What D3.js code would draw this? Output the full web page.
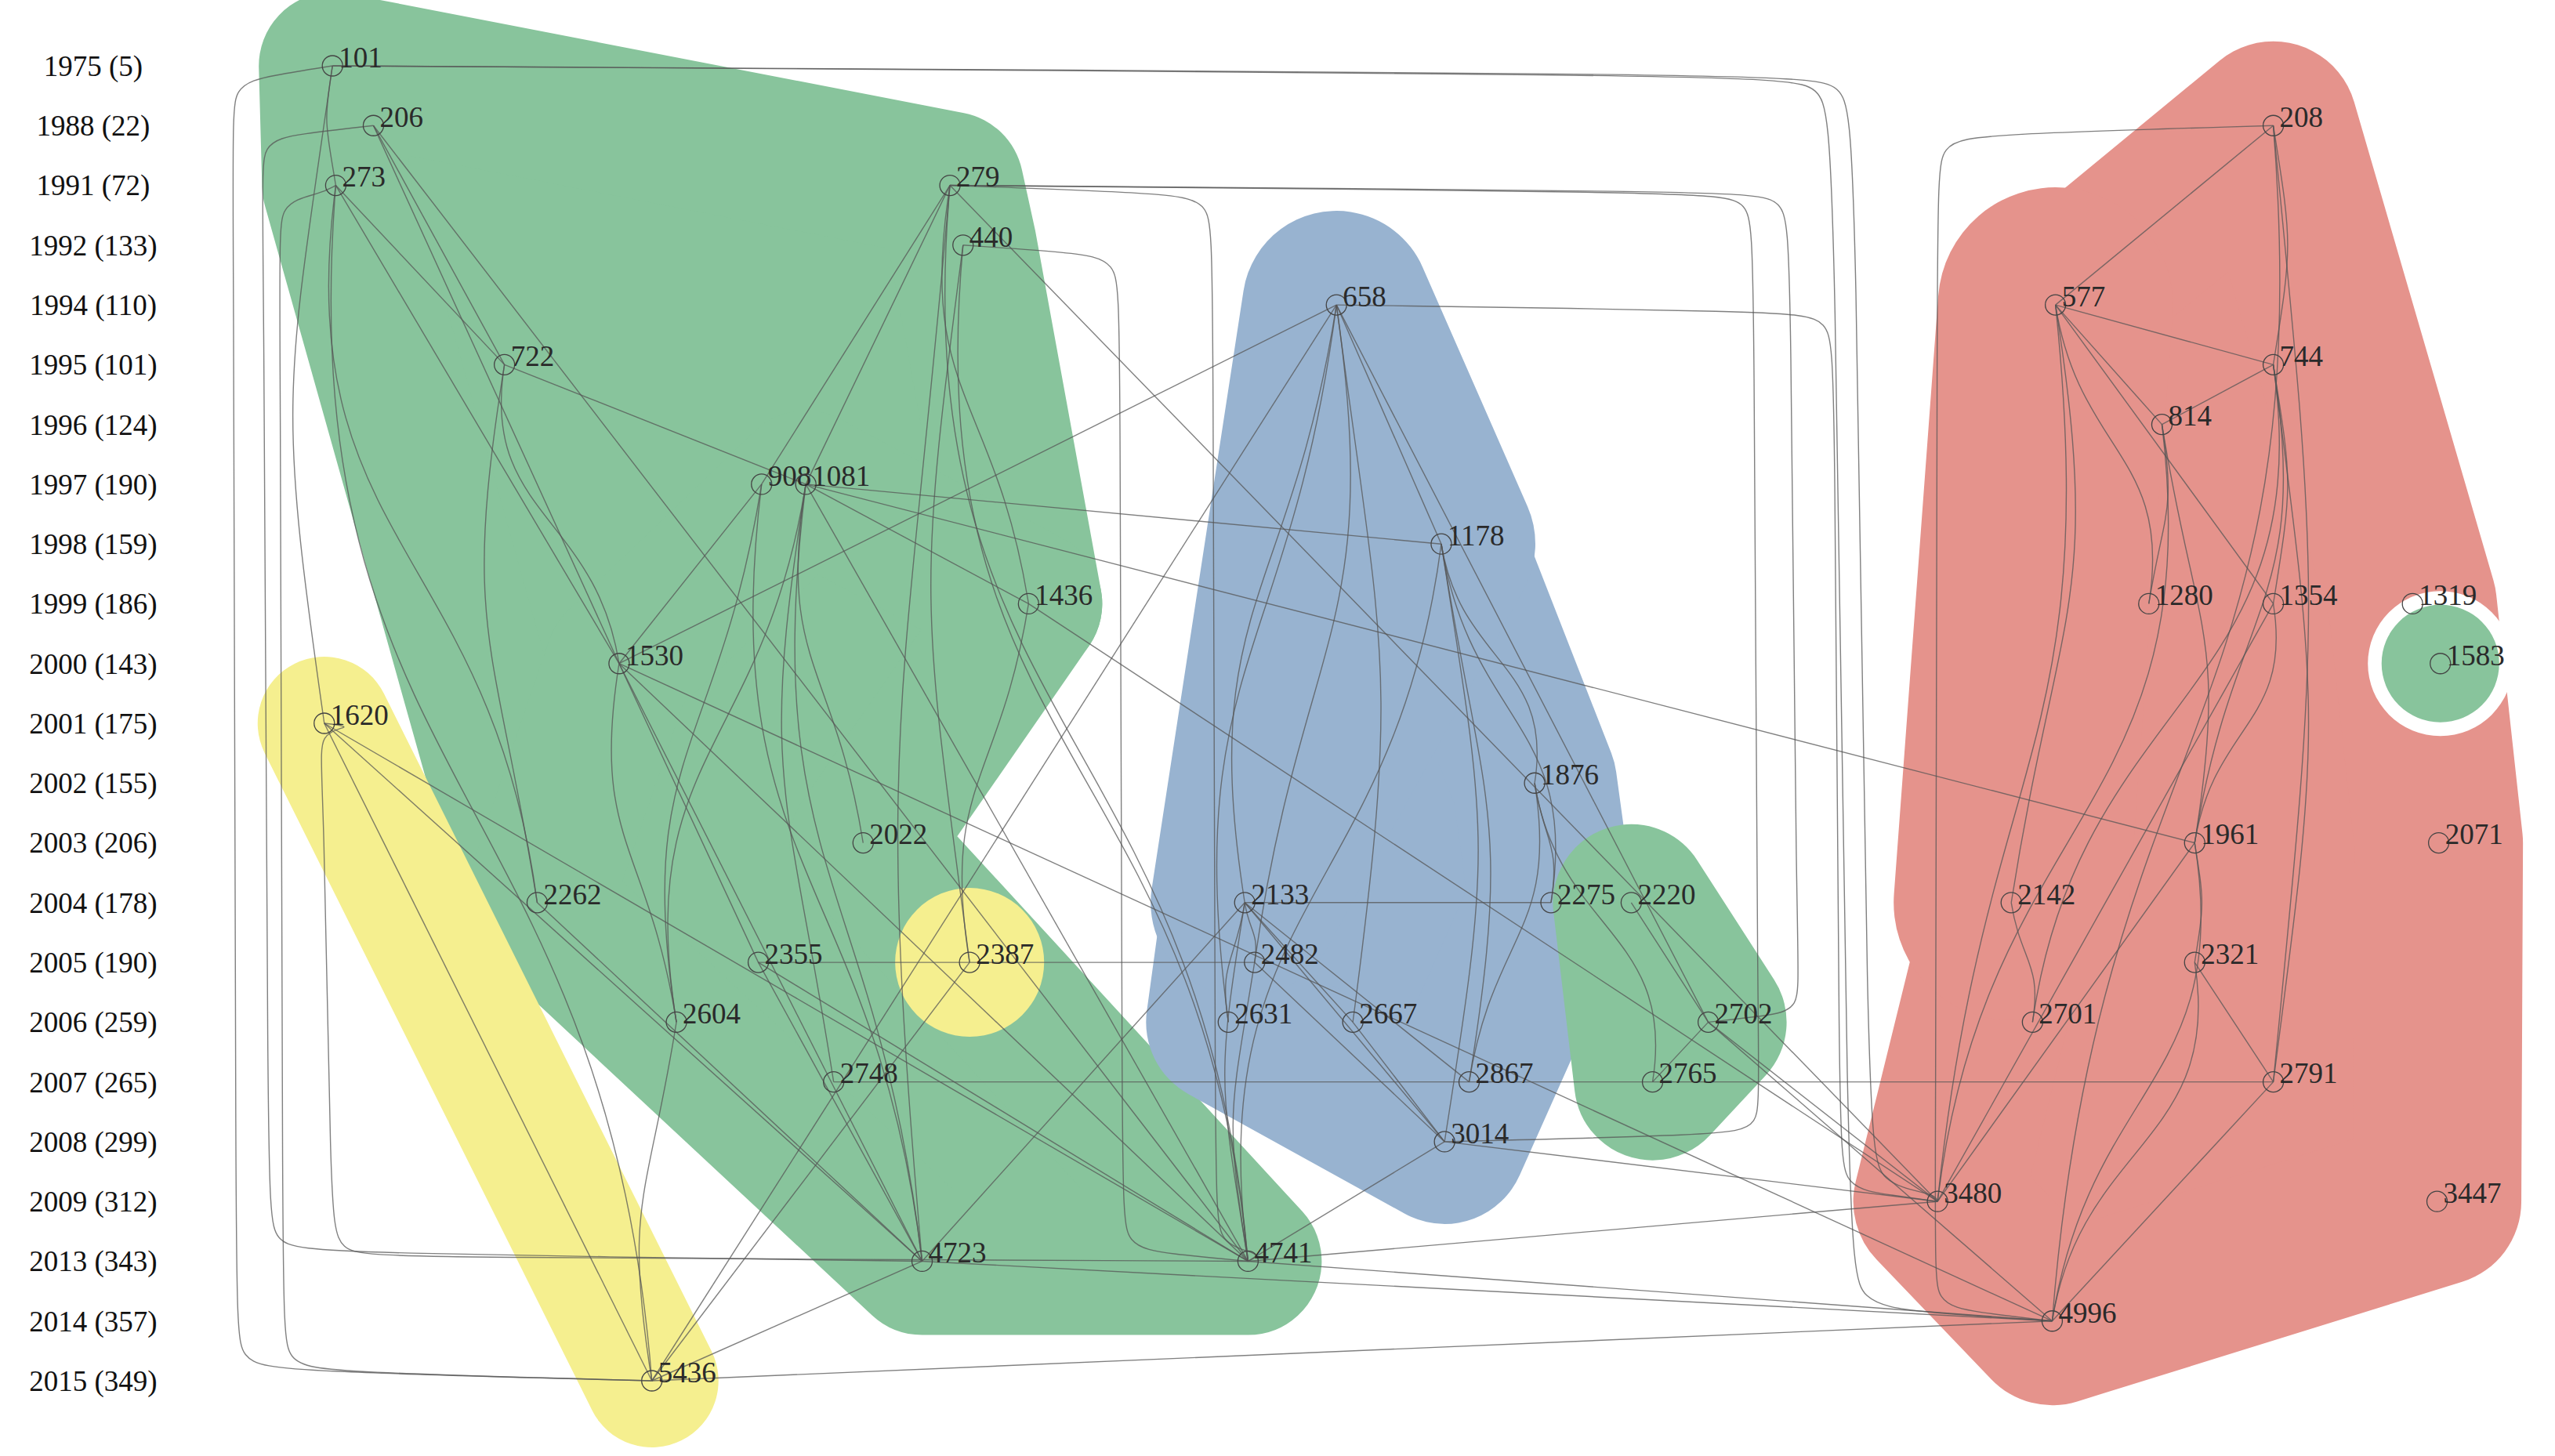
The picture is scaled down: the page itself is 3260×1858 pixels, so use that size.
<!DOCTYPE html>
<html><head><meta charset="utf-8">
<script src="https://cdn.jsdelivr.net/npm/d3@7"></script>
<style>body{margin:0;background:#fff}svg{display:block}</style>
</head><body><svg id="c" width="3260" height="1858"></svg>
<script>
const years = ["1975 (5)","1988 (22)","1991 (72)","1992 (133)","1994 (110)","1995 (101)","1996 (124)","1997 (190)","1998 (159)","1999 (186)","2000 (143)","2001 (175)","2002 (155)","2003 (206)","2004 (178)","2005 (190)","2006 (259)","2007 (265)","2008 (299)","2009 (312)","2013 (343)","2014 (357)","2015 (349)"];
const rowOf = y => years.find(s => s.startsWith(y));
const nodes = [
 ["101",203,"1975"],["206",228,"1988"],["273",205,"1991"],["279",580,"1991"],["440",588,"1992"],
 ["722",308,"1995"],["908",465,"1997"],["1081",492,"1997"],["1530",378,"2000"],["1436",628,"1999"],
 ["1620",198,"2001"],["2022",527,"2003"],["2262",328,"2004"],["2355",463,"2005"],["2604",413,"2006"],
 ["2748",509,"2007"],["4723",563,"2013"],["4741",762,"2013"],["5436",398,"2015"],["2387",592,"2005"],
 ["658",816,"1994"],["1178",880,"1998"],["1876",937,"2002"],["2133",760,"2004"],["2275",947,"2004"],
 ["2482",766,"2005"],["2631",750,"2006"],["2667",826,"2006"],["2867",897,"2007"],["3014",882,"2008"],
 ["2220",996,"2004"],["2702",1043,"2006"],["2765",1009,"2007"],
 ["208",1388,"1988"],["577",1255,"1994"],["744",1388,"1995"],["814",1320,"1996"],["1280",1312,"1999"],
 ["1354",1388,"1999"],["1319",1473,"1999"],["1583",1490,"2000"],["2071",1489,"2003"],["1961",1340,"2003"],
 ["2142",1228,"2004"],["2321",1340,"2005"],["2701",1241,"2006"],["2791",1388,"2007"],["3480",1183,"2009"],
 ["3447",1488,"2009"],["4996",1253,"2014"]
];
const edges = [
 ["273","101"],["1620","101"],["722","206"],["722","273"],["1530","273"],["1530","722"],["1530","206"],
 ["908","279"],["1081","279"],["1081","722"],["1436","279"],["1436","1081"],["1530","908"],["2262","722"],
 ["2262","273"],["2604","908"],["2604","1081"],["2355","1530"],["2748","1081"],["2022","1081"],["4723","1530"],
 ["4723","908"],["4723","2355"],["4723","1081"],["4741","1081"],["4741","279"],["4741","440"],["4741","2355"],
 ["4741","1530"],["4741","206"],["5436","1620"],["5436","2604"],["5436","4723"],["4723","1620"],["4741","1620"],
 ["2387","1436"],["2387","440"],["4723","279"],["5436","2387"],["2604","1530"],["4723","2262"],["5436","273"],
 ["1178","658"],["1178","1081"],["2133","658"],["2482","658"],["2631","658"],["2667","658"],["1876","1178"],
 ["2275","1178"],["2867","1178"],["3014","1178"],["3014","2133"],["3014","2482"],["3014","2667"],["2867","1876"],
 ["2275","1876"],["2667","2133"],["2482","2133"],["2631","2133"],["4741","2133"],["4741","2482"],["4741","3014"],
 ["4741","1178"],["2275","2133"],["2482","2355"],["1530","658"],["2702","658"],["2702","2220"],["2765","2702"],
 ["2765","1876"],["3480","2702"],["3480","4741"],["3480","1436"],["4723","2133"],["2867","2133"],
 ["577","208"],["744","208"],["744","577"],["814","577"],["814","744"],["1280","577"],["1354","577"],
 ["1354","744"],["1280","814"],["1961","814"],["1961","1354"],["1961","744"],["1961","1081"],["2142","577"],
 ["2321","1961"],["2701","2142"],["2701","744"],["2791","744"],["2791","208"],["2791","2321"],["3480","577"],
 ["3480","814"],["3480","1354"],["3480","1961"],["4996","2321"],["4996","2791"],["4996","1961"],["4996","208"],
 ["4996","4723"],["4996","2702"],["4996","4741"],["5436","4996"],["2791","2748"],["3480","3014"],
 ["3480","279"],["5436","658"],["4996","1530"]
];
const routed = [
 ["101","3480",1160],["101","4996",1145],["279","2702",1110],["279","3014",1090],["658","3480",1128],
 ["101","5436",135],["206","4723",150],["273","5436",165],["1620","4741",185],["440","4741",685],
 ["208","4996",1175],["279","4741",745]
];
const greenPolys = [["101","279","440","1436","1530","2262","273"],["1530","1081","1436","2022","4741","4723","2262"]];
const yellowPolys = [["1620","5436"],["2387"]];
const bluePolys = [["658","1178","1876","2275","3014","2631","2133"]];
const blueTop = [["658","1178","2133"]];
const green2Polys = [["2220","2702","2765"]];
const redPolys = [["208","1319","2071","3447","4996","3480","2142","577"]];
const redLeft = [["577","2142"]];
const green3Polys = [["1583"]];
const groups = [
 {color:"#88c49c", pad:188, polys:greenPolys},
 {color:"#f5ef8f", pad:170, polys:[yellowPolys[0]]},
 {color:"#f5ef8f", pad:190, polys:[yellowPolys[1]]},
 {color:"#98b3d0", pad:210, polys:bluePolys},
 {color:"#98b3d0", pad:240, polys:blueTop},
 {color:"#88c49c", pad:200, polys:green2Polys},
 {color:"#e5938c", pad:215, polys:redPolys},
 {color:"#e5938c", pad:300, polys:redLeft},
 {color:"#ffffff", pad:185, polys:green3Polys},
 {color:"#88c49c", pad:150, polys:green3Polys}
];

const svg = d3.select("#c");
const x = d3.scaleLinear().domain([0,1560]).range([0,3260]);
const y = d3.scalePoint().domain(years).range([84,1762]);
const pos = {};
nodes.forEach(([id,c,yr]) => pos[id] = {x:x(c), y:y(rowOf(yr))});

const line = d3.line();
groups.forEach(g => {
  g.polys.forEach(p => {
    const pts = p.map(n => [pos[n].x, pos[n].y]);
    if (pts.length === 1) pts.push([pts[0][0]+0.1, pts[0][1]]);
    svg.append("path").attr("d", line(pts) + "Z")
      .attr("fill", g.color).attr("stroke", g.color).attr("stroke-width", g.pad)
      .attr("stroke-linejoin","round").attr("stroke-linecap","round");
  });
});

const eg = svg.append("g").attr("fill","none").attr("stroke","#555").attr("stroke-opacity",0.75).attr("stroke-width",1.4);
eg.selectAll("path.e").data(edges).join("path").attr("class","e")
 .attr("d", ([s,t]) => {
   const a=pos[s], b=pos[t];
   const dx=b.x-a.x, dy=b.y-a.y;
   if (Math.abs(dx) < 0.4*Math.abs(dy)) {
     const bulge = (a.x < 1600 ? -1 : 1) * Math.min(60, Math.abs(dy)*0.08);
     return `M${a.x},${a.y}C${a.x+bulge},${a.y+dy*0.5} ${b.x+bulge},${b.y-dy*0.5} ${b.x},${b.y}`;
   }
   return `M${a.x},${a.y}L${b.x},${b.y}`;
 });
const rline = d3.line().curve(d3.curveBundle.beta(0.95));
eg.selectAll("path.r").data(routed).join("path").attr("class","r")
 .attr("d", ([s,t,r]) => {
   const a=pos[s], b=pos[t], rx=x(r);
   const sg = Math.sign(rx-a.x)||1, tg = Math.sign(rx-b.x)||1;
   return rline([[a.x,a.y],[rx-sg*60,a.y],[rx,a.y],[rx,a.y+60],[rx,b.y-60],[rx,b.y],[rx-tg*60,b.y],[b.x,b.y]]);
 });

const ng = svg.append("g");
nodes.forEach(([id]) => {
  ng.append("circle").attr("cx",pos[id].x).attr("cy",pos[id].y).attr("r",13)
    .attr("fill","none").attr("stroke","#444").attr("stroke-width",1.3);
  ng.append("text").attr("x",pos[id].x+8).attr("y",pos[id].y).attr("dy","0.05em")
    .attr("font-family","Liberation Serif, serif").attr("font-size",37).attr("fill","#2a2a2a").text(id);
});

svg.append("g").selectAll("text").data(years).join("text")
 .attr("x",119).attr("y",d=>y(d)).attr("dy","0.35em").attr("text-anchor","middle")
 .attr("font-family","Liberation Serif, serif").attr("font-size",37).attr("fill","#111").text(d=>d);
</script></body></html>
